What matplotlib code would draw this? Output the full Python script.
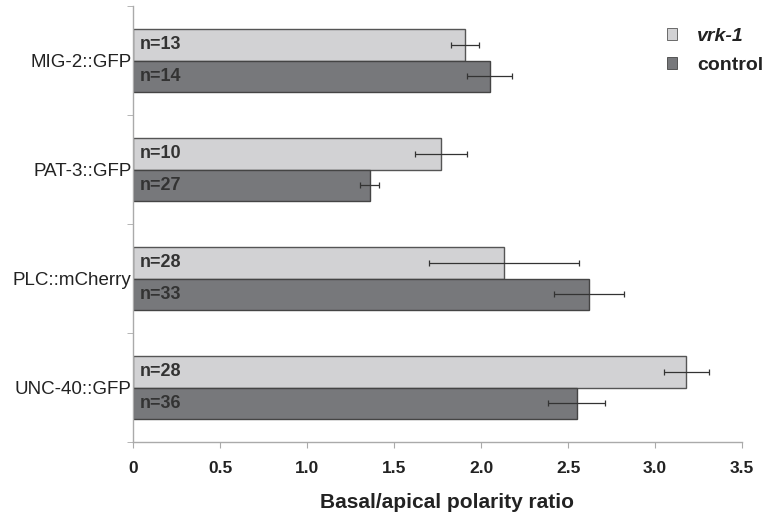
import matplotlib
matplotlib.use("Agg")
import matplotlib.pyplot as plt
import numpy as np

plt.rcParams['font.family'] = ['Liberation Sans', 'DejaVu Sans']

categories = ["MIG-2::GFP", "PAT-3::GFP", "PLC::mCherry", "UNC-40::GFP"]
vrk1_vals = [1.91, 1.77, 2.13, 3.18]
vrk1_err = [0.08, 0.15, 0.43, 0.13]
vrk1_n = [13, 10, 28, 28]
ctrl_vals = [2.05, 1.36, 2.62, 2.55]
ctrl_err = [0.13, 0.055, 0.2, 0.165]
ctrl_n = [14, 27, 33, 36]
xticks = [0, 0.5, 1.0, 1.5, 2.0, 2.5, 3.0, 3.5]
xticklabels = ["0", "0.5", "1.0", "1.5", "2.0", "2.5", "3.0", "3.5"]

fig = plt.figure(figsize=(7.65, 5.17), dpi=100)
ax = fig.add_axes([0.174, 0.145, 0.796, 0.843])

ypos = np.arange(len(categories))[::-1]
h = 0.29
light = "#d2d2d4"
dark = "#77787b"

ax.barh(ypos + h / 2, vrk1_vals, height=h, color=light, edgecolor="#555555", linewidth=1.0, label="vrk-1", zorder=2)
ax.barh(ypos - h / 2, ctrl_vals, height=h, color=dark, edgecolor="#444444", linewidth=1.0, label="control", zorder=2)
ax.errorbar(vrk1_vals, ypos + h / 2, xerr=vrk1_err, fmt="none", ecolor="#333333", elinewidth=0.9, capsize=2.5, capthick=0.9, zorder=3)
ax.errorbar(ctrl_vals, ypos - h / 2, xerr=ctrl_err, fmt="none", ecolor="#333333", elinewidth=0.9, capsize=2.5, capthick=0.9, zorder=3)

for y, n in zip(ypos + h / 2, vrk1_n):
    ax.text(0.04, y, f"n={n}", va="center", ha="left", fontsize=13, fontweight="bold", color="#333333", zorder=4)
for y, n in zip(ypos - h / 2, ctrl_n):
    ax.text(0.04, y, f"n={n}", va="center", ha="left", fontsize=13, fontweight="bold", color="#333333", zorder=4)

ax.set_xlim(0, 3.5)
ax.set_ylim(-0.5, len(categories) - 0.5)
ax.set_xticks(xticks)
ax.set_xticklabels(xticklabels, fontsize=12.5, fontweight="bold", color="#222222")
ax.set_yticks(ypos)
ax.set_yticklabels(categories, fontsize=13.5, color="#222222")
ax.tick_params(axis="y", length=0, pad=1)
ax.set_yticks(np.arange(-0.5, len(categories), 1.0), minor=True)
ax.tick_params(axis="y", which="minor", length=4, color="#aaaaaa", direction="out")
ax.tick_params(axis="x", length=4, color="#aaaaaa", direction="out", pad=10)

for s in ["top", "right"]:
    ax.spines[s].set_visible(False)
for s in ["left", "bottom"]:
    ax.spines[s].set_color("#aaaaaa")
    ax.spines[s].set_linewidth(1.0)

ax.set_xlabel("Basal/apical polarity ratio", fontsize=15, fontweight="bold", color="#222222")
ax.xaxis.set_label_coords(0.516, -0.116)

leg = ax.legend(loc="upper right", bbox_to_anchor=(1.063, 0.99), frameon=False, handlelength=0.55, handleheight=0.55,
                handletextpad=1.0, labelspacing=0.6, fontsize=14)
for p in leg.get_patches():
    p.set_linewidth(0.6)
texts = leg.get_texts()
texts[0].set_fontstyle("italic")
texts[0].set_fontweight("bold")
texts[1].set_fontweight("bold")
for t in texts:
    t.set_color("#222222")

fig.savefig("out.png", dpi=100)
